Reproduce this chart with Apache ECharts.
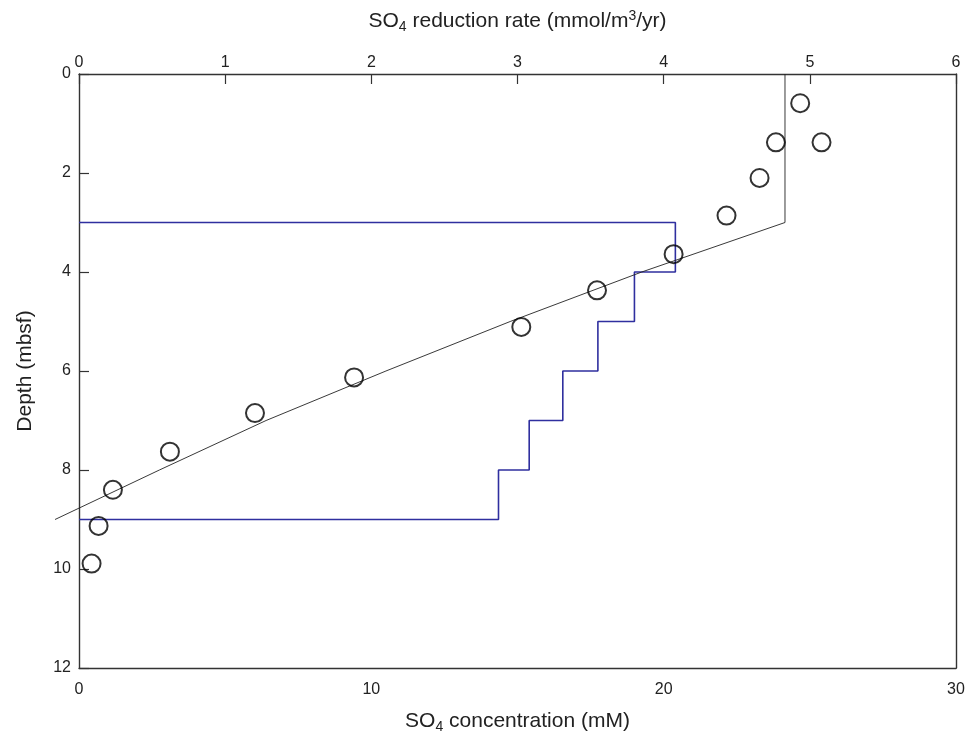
<!DOCTYPE html>
<html>
<head>
<meta charset="utf-8">
<script src="https://cdn.jsdelivr.net/npm/echarts@6/dist/echarts.min.js"></script>
<style>
  html, body { margin: 0; padding: 0; background: #fff; }
  #chart { width: 971px; height: 740px; }
</style>
</head>
<body>
<div id="chart"></div>
<script>
// Measured pore-water sulfate (bottom axis, mM) against depth (mbsf)
const sampleConc   = [24.67, 23.84, 25.40, 23.28, 22.15, 20.34, 17.72, 15.13, 9.41, 6.02, 3.11, 1.16, 0.67, 0.43];
const sampleDepths = [0.59, 1.38, 1.38, 2.10, 2.86, 3.64, 4.37, 5.11, 6.13, 6.85, 7.63, 8.40, 9.13, 9.89];

// Modelled sulfate profile (bottom axis, mM); the deepest point lies just below 0 mM
const profileDepths = [0, 3, 4, 5, 6, 7, 8, 9];
const profileConc   = [24.15, 24.15, 19.25, 14.75, 10.5, 6.4, 2.75, -0.82];

// Sulfate reduction rate per 1 m layer (top axis, mmol/m3/yr)
const layerTops  = [3, 4, 5, 6, 7, 8];
const layerRates = [4.08, 3.80, 3.55, 3.31, 3.08, 2.87];
const rateZoneTop = 3;
const rateZoneBottom = 9;

// Axis ranges and tick spacing
const concAxis  = { min: 0, max: 30, interval: 10 };
const rateAxis  = { min: 0, max: 6, interval: 1 };
const depthAxis = { min: 0, max: 12, interval: 2 };

// Plot frame (px)
const PLOT_LEFT = 79, PLOT_RIGHT = 15, PLOT_TOP = 74, PLOT_BOTTOM = 72;
const CHART_W = 971;
// The model profile is drawn in a twin grid that reaches 1 mM further left,
// so its tail below 0 mM is not cut off at the frame.
const profileMin = -1;
const pxPerMM = (CHART_W - PLOT_LEFT - PLOT_RIGHT) / (concAxis.max - concAxis.min);
const profileGridLeft = PLOT_LEFT - (concAxis.min - profileMin) * pxPerMM;

// Build step outline of the rate profile
const stepLine = [[0, rateZoneTop]];
layerTops.forEach((top, i) => {
  stepLine.push([layerRates[i], top]);
  stepLine.push([layerRates[i], top + 1]);
});
stepLine.push([0, rateZoneBottom]);

const samples = sampleConc.map((c, i) => [c, sampleDepths[i]]);
const profile = profileConc.map((c, i) => [c, profileDepths[i]]);

const FONT = '"Liberation Sans", Arial, Helvetica, sans-serif';
const axisLineStyle = { color: '#333', width: 1.4 };
const labelStyle = { color: '#222', fontSize: 16, fontFamily: FONT };
const nameRich = {
  sub: { fontSize: 14, fontFamily: FONT, color: '#222', padding: [11, 0, 0, 0] },
  sup: { fontSize: 14, fontFamily: FONT, color: '#222', padding: [0, 0, 11, 0] }
};
const nameStyle = { color: '#222', fontSize: 21, fontFamily: FONT, rich: nameRich };

const chart = echarts.init(document.getElementById('chart'), null, { renderer: 'canvas' });
chart.setOption({
  animation: false,
  backgroundColor: '#fff',
  grid: [
    { left: PLOT_LEFT, right: PLOT_RIGHT, top: PLOT_TOP, bottom: PLOT_BOTTOM, containLabel: false },
    { left: profileGridLeft, right: PLOT_RIGHT, top: PLOT_TOP, bottom: PLOT_BOTTOM, containLabel: false }
  ],
  xAxis: [
    {
      type: 'value', position: 'bottom', gridIndex: 0,
      min: concAxis.min, max: concAxis.max, interval: concAxis.interval,
      name: 'SO{sub|4} concentration (mM)',
      nameLocation: 'middle', nameGap: 41, nameTextStyle: nameStyle,
      axisLine: { show: true, onZero: false, lineStyle: axisLineStyle },
      axisTick: { show: false },
      axisLabel: Object.assign({ margin: 14 }, labelStyle),
      splitLine: { show: false }
    },
    {
      type: 'value', position: 'top', gridIndex: 0,
      min: rateAxis.min, max: rateAxis.max, interval: rateAxis.interval,
      name: 'SO{sub|4} reduction rate (mmol/m{sup|3}/yr)',
      nameLocation: 'middle', nameGap: 40, nameTextStyle: nameStyle,
      axisLine: { show: true, onZero: false, lineStyle: axisLineStyle },
      axisTick: { show: true, inside: true, length: 10, lineStyle: { color: '#333', width: 1.2 } },
      axisLabel: Object.assign({ margin: 3 }, labelStyle),
      splitLine: { show: false }
    },
    {
      type: 'value', gridIndex: 1, show: false,
      min: profileMin, max: concAxis.max
    }
  ],
  yAxis: [
    {
      type: 'value', position: 'left', inverse: true, gridIndex: 0,
      min: depthAxis.min, max: depthAxis.max, interval: depthAxis.interval,
      name: 'Depth (mbsf)',
      nameLocation: 'middle', nameGap: 43, nameRotate: 90, nameTextStyle: nameStyle,
      axisLine: { show: true, onZero: false, lineStyle: axisLineStyle },
      axisTick: { show: true, inside: true, length: 10, lineStyle: { color: '#333', width: 1.2 } },
      axisLabel: Object.assign({ margin: 8 }, labelStyle),
      splitLine: { show: false }
    },
    {
      type: 'value', position: 'right', inverse: true, gridIndex: 0,
      min: depthAxis.min, max: depthAxis.max, interval: depthAxis.interval,
      axisLine: { show: true, onZero: false, lineStyle: axisLineStyle },
      axisTick: { show: false },
      axisLabel: { show: false },
      splitLine: { show: false }
    },
    {
      type: 'value', inverse: true, gridIndex: 1, show: false,
      min: depthAxis.min, max: depthAxis.max
    }
  ],
  series: [
    {
      name: 'Reduction rate',
      type: 'line',
      xAxisIndex: 1, yAxisIndex: 0,
      data: stepLine,
      showSymbol: false, symbol: 'none',
      lineStyle: { color: '#2f2f9f', width: 1.6 },
      z: 2
    },
    {
      name: 'Model profile',
      type: 'line',
      xAxisIndex: 2, yAxisIndex: 2,
      data: profile,
      clip: false,
      showSymbol: false, symbol: 'none',
      lineStyle: { color: '#222', width: 0.9 },
      z: 3
    },
    {
      name: 'Measured SO4',
      type: 'scatter',
      xAxisIndex: 0, yAxisIndex: 0,
      data: samples,
      symbol: 'circle', symbolSize: 18,
      itemStyle: { color: 'rgba(0,0,0,0)', borderColor: '#000', borderWidth: 2 },
      z: 4
    }
  ]
});
</script>
</body>
</html>
